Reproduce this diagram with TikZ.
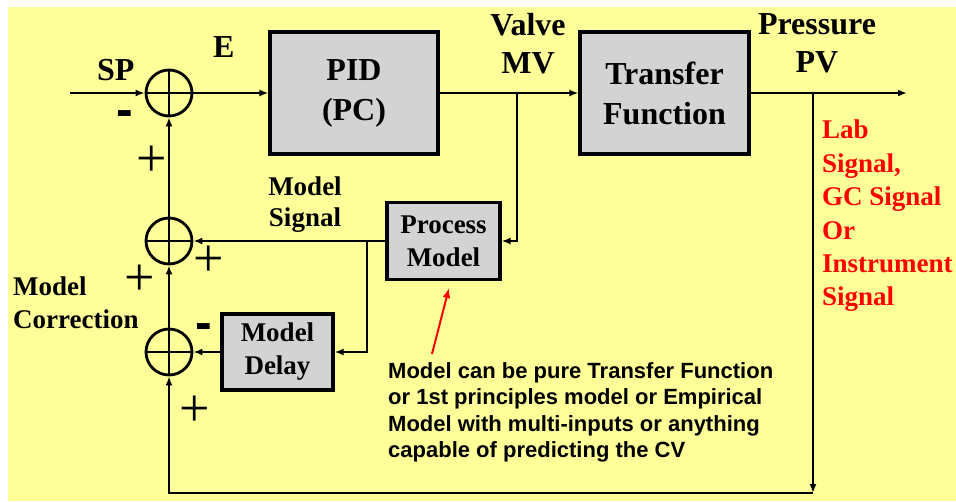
\documentclass[tikz,border=0pt]{standalone}
\usepackage{fontspec}
\setmainfont{Liberation Serif}
\newfontfamily\notefont{Liberation Sans}
\usepackage{tikz}
\usetikzlibrary{arrows.meta}
\usetikzlibrary{positioning}

\definecolor{bgyellow}{RGB}{255,255,153}
\definecolor{boxgray}{RGB}{211,211,211}

\tikzset{
  blk/.style={draw, line width=3.2pt, fill=boxgray, align=center, inner sep=0pt},
  sumpt/.style={draw, circle, line width=2.8pt, minimum size=46pt, inner sep=0pt,
    path picture={\draw[line width=2.8pt] (path picture bounding box.north) -- (path picture bounding box.south)
      (path picture bounding box.west) -- (path picture bounding box.east);}},
  sig/.style={line width=2.2pt, -{Latex[length=9pt,width=7pt]}},
  lbl/.style={inner sep=0pt, font=\bfseries\fontsize{27}{33}\selectfont},
  sgn/.style={inner sep=0pt, anchor=base, font=\fontsize{54}{54}\selectfont},
  neg/.style={inner sep=0pt, anchor=base, font=\notefont\bfseries\fontsize{50}{50}\selectfont},
}

\begin{document}
\begin{tikzpicture}[x=1pt,y=-1pt]
    \useasboundingbox (0,0) rectangle (956,501);
    \fill[white] (0,0) rectangle (956,501);
    \fill[bgyellow] (8,7) rectangle (956,501);

    % blocks and summing points
    \node[sumpt] (s1) at (169,93) {};
    \node[sumpt] (s2) at (169,241) {};
    \node[sumpt] (s3) at (169,352) {};
    \node[blk, minimum width=168pt, minimum height=122pt, font=\bfseries\fontsize{32}{40}\selectfont] (pid) at (354,93) {PID\\(PC)};
    \node[blk, minimum width=169pt, minimum height=122pt, font=\bfseries\fontsize{32}{40}\selectfont] (tf) at (664.5,93) {Transfer\\Function};
    \node[blk, minimum width=113pt, minimum height=77pt, font=\bfseries\fontsize{27}{33}\selectfont] (pm) at (443.5,241) {Process\\Model};
    \node[blk, minimum width=111pt, minimum height=76pt, font=\bfseries\fontsize{27}{33}\selectfont] (md) at (277.5,352) {Model\\Delay};

    \coordinate (spin) at (70,93);
    \coordinate (mvtap) at (517,93);
    \coordinate (pvtap) at (813,93);
    \coordinate (pvout) at (907,93);
    \coordinate (pvlow) at (813,493);
    \coordinate (pmtap) at (367,241);

    % signal lines
    \draw[sig] (spin) -- (s1);
    \draw[sig] (s1) -- (pid);
    \draw[sig] (pid) -- (tf);
    \draw[sig] (tf) -- (pvout);
    \draw[sig] (mvtap) |- (pm.east);
    \draw[sig] (pm) -- (s2);
    \draw[sig] (pmtap) |- (md.east);
    \draw[sig] (md) -- (s3);
    \draw[sig] (pvtap) -- (pvlow);
    \draw[sig] (pvlow) -| (s3);
    \draw[sig] (s3) -- (s2);
    \draw[sig] (s2) -- (s1);

    % labels
    \node[inner sep=0pt, anchor=base west, font=\bfseries\fontsize{32}{38}\selectfont] (sp) at (97,80) {SP};
    \node[inner sep=0pt, anchor=base west, font=\bfseries\fontsize{32}{38}\selectfont] (err) at (213,57) {E};
    \node[inner sep=0pt, anchor=north, align=center, font=\bfseries\fontsize{32}{38}\selectfont] (mv) at (528,13) {Valve\\MV};
    \node[inner sep=0pt, anchor=north, align=center, font=\bfseries\fontsize{32}{38}\selectfont] (pv) at (817,13) {Pressure\\PV};
    \node[lbl, anchor=north, align=center, font=\bfseries\fontsize{27}{31}\selectfont] (msig) at (305,177) {Model\\Signal};
    \node[lbl, anchor=north west, align=left] (mcor) at (13,277) {Model\\Correction};
    \node[lbl, anchor=north west, align=left, text=red, font=\bfseries\fontsize{27}{33.4}\selectfont] (lab) at (822,120) {Lab\\Signal,\\GC Signal\\Or\\Instrument\\Signal};

    % signs
    \node[neg] (m1) at (125,126) {-};
    \node[sgn] (p1) at (152,176) {+};
    \node[sgn] (p2) at (209,276) {+};
    \node[sgn] (p3) at (140,295) {+};
    \node[neg] (m2) at (204,339) {-};
    \node[sgn] (p4) at (195,426) {+};

    % note
    \node[inner sep=0pt, anchor=north west, align=left, font=\notefont\bfseries\fontsize{22}{26.5}\selectfont] (note) at (388,362)
      {Model can be pure Transfer Function\\or 1st principles model or Empirical\\Model with multi-inputs or anything\\capable of predicting the CV};
    \coordinate (notefoot) at (432,354);
    \coordinate (notetip) at (449,288);
    \draw[red, line width=2pt, -{Latex[length=10pt,width=8pt]}] (notefoot) -- (notetip);

\end{tikzpicture}
\end{document}
